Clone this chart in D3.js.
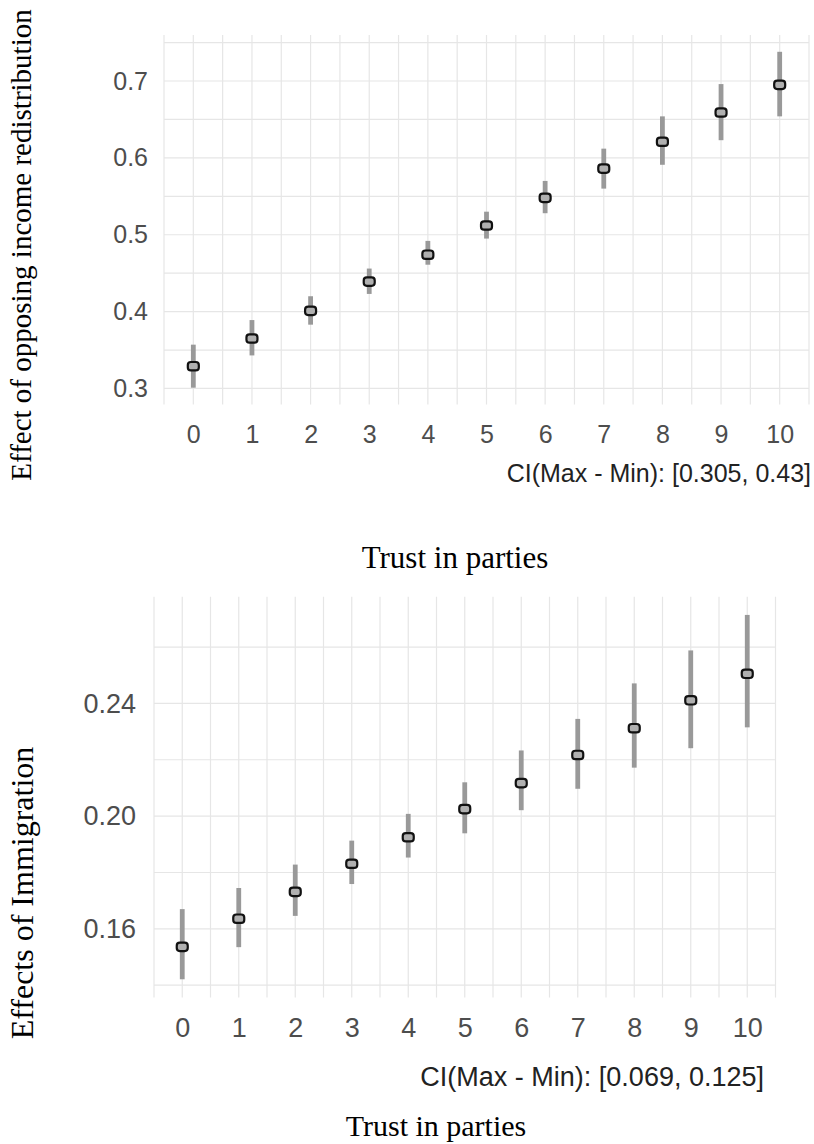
<!DOCTYPE html>
<html>
<head>
<meta charset="utf-8">
<script src="https://cdn.jsdelivr.net/npm/d3@7"></script>
<style>
  body { margin: 0; background: #fff; }
  svg { display: block; }
</style>
</head>
<body>
<svg id="chart" width="814" height="1144"></svg>
<script>
// trust in parties, 0..10
const trustLevels = [0, 1, 2, 3, 4, 5, 6, 7, 8, 9, 10];

// panel 1: opposing income redistribution
const redistEst  = [0.329, 0.365, 0.401, 0.439, 0.474, 0.512, 0.548, 0.586, 0.621, 0.659, 0.695];
const redistLow  = [0.301, 0.343, 0.383, 0.423, 0.461, 0.495, 0.528, 0.560, 0.591, 0.623, 0.654];
const redistHigh = [0.357, 0.389, 0.420, 0.456, 0.492, 0.530, 0.570, 0.612, 0.654, 0.696, 0.738];
const redistTicks = [0.3, 0.4, 0.5, 0.6, 0.7];
const redistMinor = [0.35, 0.45, 0.55, 0.65, 0.75];

// panel 2: effects of immigration
const immigEst  = [0.1536, 0.1636, 0.1731, 0.1831, 0.1925, 0.2025, 0.2117, 0.2217, 0.2312, 0.2411, 0.2505];
const immigLow  = [0.1421, 0.1535, 0.1646, 0.1759, 0.1853, 0.1939, 0.2021, 0.2097, 0.2172, 0.2241, 0.2315];
const immigHigh = [0.1670, 0.1745, 0.1828, 0.1913, 0.2008, 0.2120, 0.2233, 0.2345, 0.2471, 0.2588, 0.2714];
const immigTicks = [0.16, 0.20, 0.24];
const immigMinor = [0.14, 0.18, 0.22, 0.26];

const svg = d3.select('#chart');
const sans = '"Liberation Sans", Arial, sans-serif';
const serif = '"Liberation Serif", "Times New Roman", serif';

function drawPanel(p) {
  const data = trustLevels.map((t, i) => ({ x: t, est: p.est[i], lo: p.low[i], hi: p.high[i] }));

  const x = d3.scaleLinear()
    .domain([d3.min(trustLevels) - 0.5, d3.max(trustLevels) + 0.5])
    .range([p.left, p.right]);

  // ggplot-like 5% expansion of the data range
  const lo = d3.min(data, d => d.lo), hi = d3.max(data, d => d.hi);
  const pad = (hi - lo) * 0.05;
  const y = d3.scaleLinear()
    .domain([lo - pad, hi + pad])
    .range([p.bottom, p.top]);

  const g = svg.append('g');

  // grid
  const xGrid = d3.range(d3.min(trustLevels) - 0.5, d3.max(trustLevels) + 1, 0.5);
  g.selectAll('.vgrid').data(xGrid).enter().append('line')
    .attr('x1', d => x(d)).attr('x2', d => x(d))
    .attr('y1', p.top).attr('y2', p.bottom)
    .attr('stroke', '#e6e6e6').attr('stroke-width', 1.2);

  g.selectAll('.hgrid').data(p.ticks.concat(p.minor)).enter().append('line')
    .attr('x1', p.left).attr('x2', p.right)
    .attr('y1', d => y(d)).attr('y2', d => y(d))
    .attr('stroke', '#e6e6e6').attr('stroke-width', 1.2);

  // axes (labels only)
  const yAxis = g.append('g')
    .attr('transform', `translate(${p.left},0)`)
    .call(d3.axisLeft(y).tickValues(p.ticks).tickSize(0).tickPadding(p.yPad).tickFormat(d3.format(p.fmt)));
  yAxis.select('.domain').remove();
  yAxis.selectAll('text')
    .attr('font-family', sans).attr('font-size', p.tickSize).attr('fill', '#4d4d4d');

  const xAxis = g.append('g')
    .attr('transform', `translate(0,${p.bottom})`)
    .call(d3.axisBottom(x).tickValues(trustLevels).tickSize(0).tickFormat(d3.format('d')));
  xAxis.select('.domain').remove();
  xAxis.selectAll('text')
    .attr('y', p.xBase - p.bottom).attr('dy', null)
    .attr('font-family', sans).attr('font-size', p.tickSize).attr('fill', '#4d4d4d');

  // error bars
  g.selectAll('.ci').data(data).enter().append('line')
    .attr('x1', d => x(d.x)).attr('x2', d => x(d.x))
    .attr('y1', d => y(d.lo)).attr('y2', d => y(d.hi))
    .attr('stroke', '#999999').attr('stroke-width', 4.8);

  // point estimates
  g.selectAll('.pt').data(data).enter().append('rect')
    .attr('x', d => x(d.x) - 5.5).attr('y', d => y(d.est) - 4.2)
    .attr('width', 11).attr('height', 8.4)
    .attr('rx', 3).attr('ry', 3)
    .attr('fill', '#b0b0b0').attr('stroke', '#111').attr('stroke-width', 2.2);

  // CI caption
  svg.append('text')
    .attr('x', p.ciRight).attr('y', p.ciBase)
    .attr('text-anchor', 'end')
    .attr('font-family', sans).attr('font-size', p.tickSize).attr('fill', '#222')
    .text(p.ciText);

  // axis titles
  svg.append('text')
    .attr('x', p.xTitleX).attr('y', p.xTitleY)
    .attr('text-anchor', 'middle')
    .attr('font-family', serif).attr('font-size', p.xTitleSize).attr('fill', '#000')
    .text('Trust in parties');

  svg.append('text')
    .attr('transform', `translate(${p.yTitleX},${p.yTitleY}) rotate(-90)`)
    .attr('text-anchor', 'middle')
    .attr('font-family', serif).attr('font-size', p.yTitleSize).attr('fill', '#000')
    .text(p.yTitle);
}

drawPanel({
  est: redistEst, low: redistLow, high: redistHigh,
  ticks: redistTicks, minor: redistMinor, fmt: '.1f',
  left: 164, right: 809, top: 35, bottom: 404.5,
  yPad: 16, tickSize: 25, xBase: 443,
  ciText: 'CI(Max - Min): [0.305, 0.43]', ciRight: 811, ciBase: 482,
  xTitleX: 455, xTitleY: 568, xTitleSize: 31,
  yTitle: 'Effect of opposing income redistribution', yTitleX: 31, yTitleY: 245, yTitleSize: 29
});

drawPanel({
  est: immigEst, low: immigLow, high: immigHigh,
  ticks: immigTicks, minor: immigMinor, fmt: '.2f',
  left: 154, right: 775.5, top: 596.7, bottom: 997.5,
  yPad: 18, tickSize: 27, xBase: 1037,
  ciText: 'CI(Max - Min): [0.069, 0.125]', ciRight: 764, ciBase: 1086,
  xTitleX: 436, xTitleY: 1136, xTitleSize: 30,
  yTitle: 'Effects of Immigration', yTitleX: 33, yTitleY: 893, yTitleSize: 32
});
</script>
</body>
</html>
